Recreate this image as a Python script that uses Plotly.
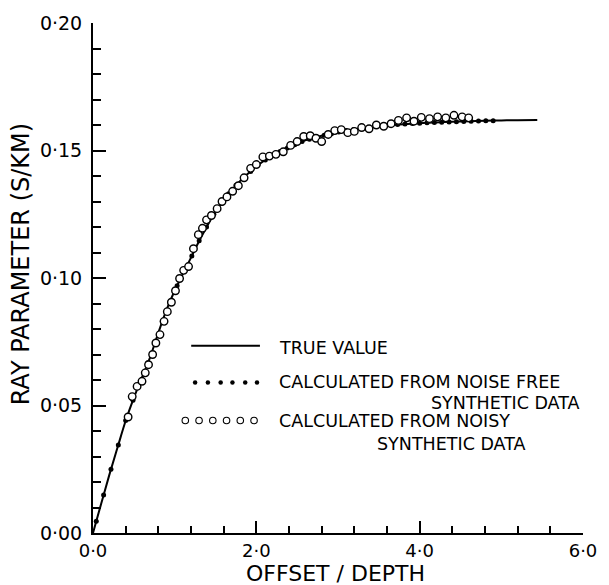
import plotly.graph_objects as go

# ---- data ----
true_x = [0, 0.1, 0.2, 0.3, 0.4, 0.5, 0.6, 0.7, 0.8, 0.9, 1.0, 1.1, 1.2, 1.3, 1.4, 1.5, 1.6, 1.7,
          1.8, 1.9, 2.0, 2.2, 2.4, 2.6, 2.8, 3.0, 3.2, 3.4, 3.6, 3.8, 4.0, 4.2, 4.4, 4.6, 4.8,
          5.0, 5.2, 5.44]
true_y = [0, 0.0115, 0.0228, 0.0335, 0.0440, 0.0530, 0.0610, 0.0690, 0.0785, 0.0875, 0.0950,
          0.1015, 0.1080, 0.1145, 0.1205, 0.1260, 0.1305, 0.1345, 0.1380, 0.1410, 0.1438,
          0.1482, 0.1515, 0.1540, 0.1558, 0.1572, 0.1583, 0.1592, 0.1598, 0.1603, 0.1607,
          0.1610, 0.1613, 0.1615, 0.1617, 0.1618, 0.1619, 0.1620]

free_x = [0.04, 0.13, 0.22, 0.31, 0.40, 0.49, 0.58, 0.67, 0.76, 0.85, 0.94, 1.03, 1.12, 1.21,
          1.30, 1.39, 1.48, 1.57, 1.66, 1.75, 1.84, 1.93, 2.02, 2.11, 2.20, 2.29, 2.38, 2.47,
          2.56, 2.65, 2.74, 2.83, 2.92, 3.01, 3.10, 3.19, 3.28, 3.37, 3.46, 3.55, 3.64, 3.73,
          3.82, 3.91, 4.00, 4.09, 4.18, 4.27, 4.36, 4.45, 4.54, 4.63, 4.72, 4.81, 4.90]
free_y = [0.0046, 0.0149, 0.0250, 0.0345, 0.0441, 0.0521, 0.0597, 0.0668, 0.0745, 0.0830,
          0.0905, 0.0970, 0.1027, 0.1086, 0.1146, 0.1200, 0.1250, 0.1292, 0.1330, 0.1364,
          0.1392, 0.1418, 0.1443, 0.1463, 0.1480, 0.1496, 0.1510, 0.1523, 0.1535, 0.1544,
          0.1553, 0.1560, 0.1566, 0.1573, 0.1578, 0.1582, 0.1586, 0.1590, 0.1594, 0.1597,
          0.1599, 0.1602, 0.1604, 0.1606, 0.1607, 0.1609, 0.1610, 0.1611, 0.1612, 0.1613,
          0.1614, 0.1615, 0.1616, 0.1617, 0.1617]

noisy_x = [0.43, 0.48, 0.54, 0.60, 0.64, 0.68, 0.73, 0.77, 0.82, 0.87, 0.91, 0.96, 1.01, 1.06,
           1.11, 1.17, 1.23, 1.29, 1.34, 1.39, 1.45, 1.52, 1.58, 1.64, 1.71, 1.78, 1.85, 1.93,
           2.00, 2.08, 2.16, 2.24, 2.33, 2.42, 2.50, 2.58, 2.66, 2.73, 2.80, 2.88, 2.96, 3.04,
           3.12, 3.20, 3.29, 3.38, 3.47, 3.56, 3.65, 3.74, 3.84, 3.93, 4.02, 4.12, 4.22, 4.32,
           4.42, 4.52, 4.60]
noisy_y = [0.0455, 0.0535, 0.0575, 0.0595, 0.0628, 0.0660, 0.0700, 0.0745, 0.0778, 0.0830,
           0.0868, 0.0905, 0.0950, 0.0998, 0.1030, 0.1045, 0.1115, 0.1170, 0.1195, 0.1228,
           0.1245, 0.1272, 0.1300, 0.1318, 0.1340, 0.1362, 0.1393, 0.1430, 0.1445, 0.1475,
           0.1478, 0.1485, 0.1495, 0.1520, 0.1535, 0.1555, 0.1558, 0.1548, 0.1535, 0.1563,
           0.1578, 0.1582, 0.1570, 0.1575, 0.1590, 0.1585, 0.1600, 0.1595, 0.1605, 0.1618,
           0.1628, 0.1615, 0.1630, 0.1625, 0.1632, 0.1628, 0.1638, 0.1632, 0.1628]

x_tickvals = [0, 2, 4, 6]
x_ticktext = ["0·0", "2·0", "4·0", "6·0"]
y_tickvals = [0, 0.05, 0.10, 0.15, 0.20]
y_ticktext = ["0·00", "0·05", "0·10", "0·15", "0·20"]

legend_labels = ["TRUE VALUE", "CALCULATED FROM NOISE FREE", "SYNTHETIC DATA",
                 "CALCULATED FROM NOISY", "SYNTHETIC DATA"]
x_title = "OFFSET / DEPTH"
y_title = "RAY PARAMETER (S/KM)"

FONT = "DejaVu Sans"
W, H = 609, 585
L, R, T, B = 93, 17, 21, 52


def px_to_paper(px, py):
    return (px - L) / (W - L - R), (H - B - py) / (H - T - B)


fig = go.Figure()

fig.add_trace(go.Scatter(x=true_x, y=true_y, mode="lines",
                         line=dict(color="black", width=2), line_shape="spline",
                         showlegend=False, hoverinfo="skip"))
fig.add_trace(go.Scatter(x=free_x, y=free_y, mode="markers",
                         marker=dict(color="black", size=5, symbol="circle"),
                         showlegend=False, cliponaxis=False))
fig.add_trace(go.Scatter(x=noisy_x, y=noisy_y, mode="markers",
                         marker=dict(color="white", size=7.5, symbol="circle",
                                     line=dict(color="black", width=1.4)),
                         showlegend=False, cliponaxis=False))

# ---- legend keys on a pixel-space overlay axis ----
fig.add_trace(go.Scatter(x=[193, 263], y=[345, 345], mode="lines",
                         line=dict(color="black", width=2), xaxis="x2", yaxis="y2",
                         showlegend=False, hoverinfo="skip"))
fig.add_trace(go.Scatter(x=[197, 210, 223, 235, 248, 260], y=[382] * 6, mode="markers",
                         marker=dict(color="black", size=4.5), xaxis="x2", yaxis="y2",
                         showlegend=False, hoverinfo="skip"))
fig.add_trace(go.Scatter(x=[187, 201, 215, 229, 243, 257], y=[420] * 6, mode="markers",
                         marker=dict(color="white", size=6.5, line=dict(color="black", width=1.1)),
                         xaxis="x2", yaxis="y2", showlegend=False, hoverinfo="skip"))

leg_pos = [(280, 347), (280, 381), (435, 402), (280, 421), (380, 444)]
for (px, py), txt in zip(leg_pos, legend_labels):
    ax_, ay_ = px_to_paper(px, py)
    fig.add_annotation(x=ax_, y=ay_, xref="paper", yref="paper", text=txt, showarrow=False,
                       xanchor="left", yanchor="middle",
                       font=dict(family=FONT, size=17.5, color="black"))

# axis titles
tx, ty = px_to_paper(340, 574)
fig.add_annotation(x=tx, y=ty, xref="paper", yref="paper", text=x_title, showarrow=False,
                   xanchor="center", yanchor="middle", font=dict(family=FONT, size=22, color="black"))
tx, ty = px_to_paper(20, 263)
fig.add_annotation(x=tx, y=ty, xref="paper", yref="paper", text=y_title, showarrow=False,
                   textangle=-90, xanchor="center", yanchor="middle",
                   font=dict(family=FONT, size=24, color="black"))

fig.update_layout(
    width=W, height=H,
    margin=dict(l=L, r=R, t=T, b=B, pad=0),
    paper_bgcolor="white", plot_bgcolor="white",
    font=dict(family=FONT, size=18, color="black"),
    xaxis=dict(range=[0, 6], showgrid=False, zeroline=False, showline=True,
               linecolor="black", linewidth=2, ticks="inside", ticklen=12, tickwidth=1.5,
               tickcolor="black", tickmode="array", tickvals=x_tickvals, ticktext=x_ticktext,
               tickfont=dict(family=FONT, size=18), ticklabelstandoff=0,
               minor=dict(dtick=0.4, tick0=0, ticks="inside", ticklen=7, tickwidth=1.5,
                          tickcolor="black", showgrid=False)),
    yaxis=dict(range=[0, 0.2], showgrid=False, zeroline=False, showline=True,
               linecolor="black", linewidth=2, ticks="inside", ticklen=13, tickwidth=1.5,
               tickcolor="black", tickmode="array", tickvals=y_tickvals, ticktext=y_ticktext,
               tickfont=dict(family=FONT, size=19), ticklabelstandoff=5,
               minor=dict(dtick=0.01, tick0=0, ticks="inside", ticklen=8, tickwidth=1.5,
                          tickcolor="black", showgrid=False)),
    xaxis2=dict(range=[L, W - R], overlaying="x", visible=False, fixedrange=True),
    yaxis2=dict(range=[H - B, T], overlaying="y", visible=False, fixedrange=True),
    showlegend=False,
)

fig.write_html("out.html")
